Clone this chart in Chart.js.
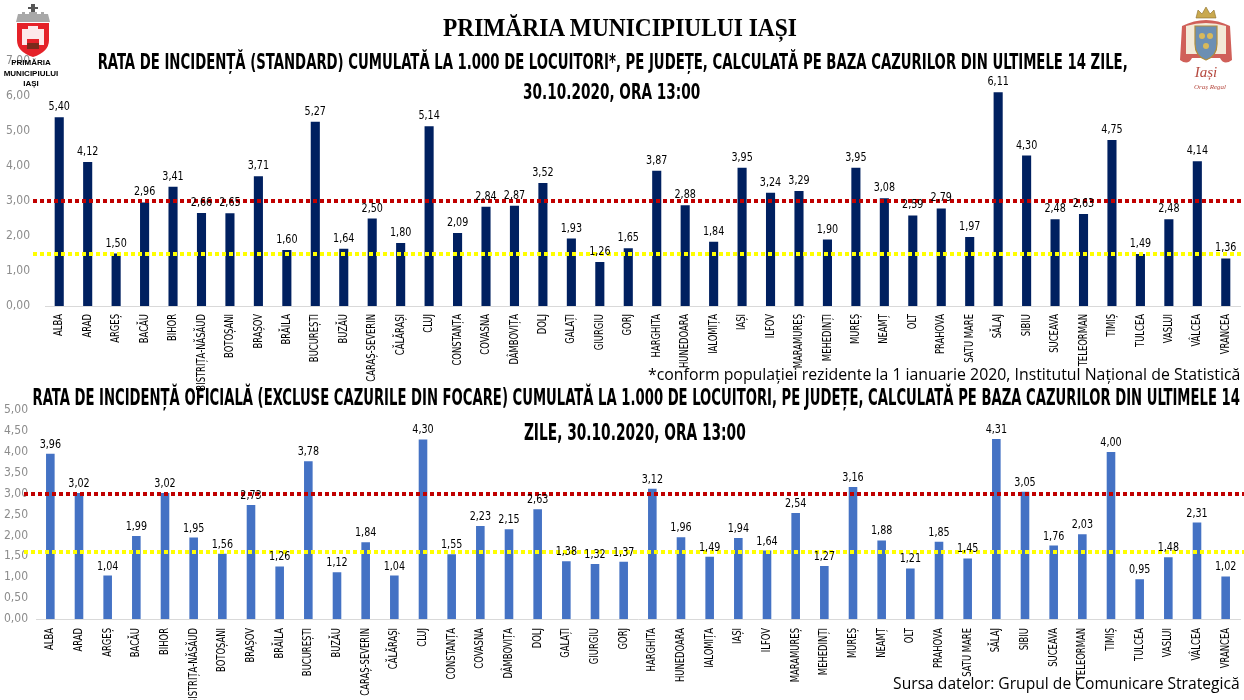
<!DOCTYPE html>
<html>
<head>
<meta charset="utf-8">
<script src="https://cdn.jsdelivr.net/npm/chart.js@4.4.0/dist/chart.umd.min.js"></script>
<style>
  html, body { margin: 0; padding: 0; background: #fff; }
  #page { position: relative; width: 1244px; height: 700px; overflow: hidden; background: #fff; }
  canvas { position: absolute; left: 0; }
  .t { position: absolute; white-space: nowrap; line-height: 1; transform-origin: center center; z-index: 2; color: #000; }
  .cond { font-family: "Liberation Sans Narrow", "DejaVu Sans Condensed", sans-serif; font-weight: bold; }
  .calib { font-family: "Open Sans", "Noto Sans", sans-serif; }
  .logo { position: absolute; z-index: 3; }
</style>
</head>
<body>
<div id="page">
  <canvas id="standardChart" width="1244" height="360" style="top:39px"></canvas>
  <canvas id="officialChart" width="1244" height="307" style="top:395px"></canvas>

  <!-- left logo -->
  <svg class="logo" style="left:10px;top:2px" width="46" height="56" viewBox="0 0 46 56">
    <path d="M21 2 h4 v3 h3 v2 h-3 v4 h-4 v-4 h-3 v-2 h3z" fill="#555"/>
    <path d="M6 20 L8 12 h4 v-2 h3 v2 h4 v-2 h8 v2 h4 v-2 h3 v2 h4 L40 20z" fill="#a8a8a8"/>
    <path d="M7 21 H39 V38 Q39 50 23 55 Q7 50 7 38 Z" fill="#e52229"/>
    <path d="M12 27 h6 v-3 h10 v3 h6 v16 h-5 v-6 h-12 v6 h-5z" fill="#fff" opacity="0.9"/>
    <path d="M17 41 h12 v6 h-12z" fill="#7a2b1c"/>
  </svg>
  <div class="t" id="logoTxt" style="font-family:'Liberation Sans',Arial,sans-serif;font-weight:bold;font-size:8px;line-height:10.5px;text-align:center;left:2px;top:58px;width:58px;">PRIMĂRIA<br>MUNICIPIULUI<br>IAȘI</div>

  <!-- right logo -->
  <svg class="logo" style="left:1176px;top:4px" width="60" height="92" viewBox="0 0 60 92">
    <path d="M20 14 L22 6 L26 10 L30 3 L34 10 L38 6 L40 14 Z" fill="#c9a94f" stroke="#8a6d2a" stroke-width="0.6"/>
    <path d="M6 22 Q30 10 54 22 L56 56 Q48 62 44 54 L16 54 Q12 62 4 56 Z" fill="#c8443c" opacity="0.85"/>
    <path d="M10 22 Q30 16 50 22 L50 50 L10 50 Z" fill="#f3ead8"/>
    <path d="M19 22 H41 V40 Q41 52 30 56 Q19 52 19 40 Z" fill="#6c8fb3" stroke="#b08d3a" stroke-width="1.2"/>
    <circle cx="26" cy="32" r="3" fill="#d8b95a"/>
    <circle cx="34" cy="32" r="3" fill="#d8b95a"/>
    <circle cx="30" cy="42" r="3" fill="#d8b95a"/>
    <text x="30" y="73" text-anchor="middle" font-family="Liberation Serif, serif" font-style="italic" font-size="15" fill="#b5483e">Iași</text>
    <text x="34" y="85" text-anchor="middle" font-family="Liberation Serif, serif" font-style="italic" font-size="7" fill="#b5483e">Oraș Regal</text>
  </svg>

  <div class="t" data-cx="620" data-cy="27" data-w="354" style="font-family:'Liberation Serif','DejaVu Serif',serif;font-weight:bold;font-size:25px;">PRIMĂRIA MUNICIPIULUI IAȘI</div>
  <div class="t cond" data-cx="612" data-cy="62" data-w="1030" style="font-size:21px;">RATA DE INCIDENȚĂ (STANDARD) CUMULATĂ LA 1.000 DE LOCUITORI*, PE JUDEȚE, CALCULATĂ PE BAZA CAZURILOR DIN ULTIMELE 14 ZILE,</div>
  <div class="t cond" data-cx="611" data-cy="92" data-w="177" style="font-size:21px;">30.10.2020, ORA 13:00</div>
  <div class="t calib" data-cx="944" data-cy="374" data-w="592" style="font-size:16px;">*conform populației rezidente la 1 ianuarie 2020, Institutul Național de Statistică</div>
  <div class="t cond" data-cx="636" data-cy="397" data-w="1208" style="font-size:23px;">RATA DE INCIDENȚĂ OFICIALĂ (EXCLUSE CAZURILE DIN FOCARE) CUMULATĂ LA 1.000 DE LOCUITORI, PE JUDEȚE, CALCULATĂ PE BAZA CAZURILOR DIN ULTIMELE 14</div>
  <div class="t cond" data-cx="635" data-cy="432" data-w="222" style="font-size:23px;">ZILE, 30.10.2020, ORA 13:00</div>
  <div class="t calib" data-cx="1066" data-cy="683" data-w="347" style="font-size:16px;">Sursa datelor: Grupul de Comunicare Strategică</div>
</div>

<script>
  const counties = ['ALBA', 'ARAD', 'ARGEȘ', 'BACĂU', 'BIHOR', 'BISTRIȚA-NĂSĂUD', 'BOTOȘANI', 'BRAȘOV',
    'BRĂILA', 'BUCUREȘTI', 'BUZĂU', 'CARAȘ-SEVERIN', 'CĂLĂRAȘI', 'CLUJ', 'CONSTANȚA', 'COVASNA',
    'DÂMBOVIȚA', 'DOLJ', 'GALAȚI', 'GIURGIU', 'GORJ', 'HARGHITA', 'HUNEDOARA', 'IALOMIȚA', 'IAȘI',
    'ILFOV', 'MARAMUREȘ', 'MEHEDINȚI', 'MUREȘ', 'NEAMȚ', 'OLT', 'PRAHOVA', 'SATU MARE', 'SĂLAJ',
    'SIBIU', 'SUCEAVA', 'TELEORMAN', 'TIMIȘ', 'TULCEA', 'VASLUI', 'VÂLCEA', 'VRANCEA'];

  // rata standard (sus)
  const standardRate = [5.40, 4.12, 1.50, 2.96, 3.41, 2.66, 2.65, 3.71, 1.60, 5.27, 1.64, 2.50, 1.80, 5.14,
    2.09, 2.84, 2.87, 3.52, 1.93, 1.26, 1.65, 3.87, 2.88, 1.84, 3.95, 3.24, 3.29, 1.90, 3.95, 3.08,
    2.59, 2.79, 1.97, 6.11, 4.30, 2.48, 2.63, 4.75, 1.49, 2.48, 4.14, 1.36];

  // rata oficiala (jos)
  const officialRate = [3.96, 3.02, 1.04, 1.99, 3.02, 1.95, 1.56, 2.73, 1.26, 3.78, 1.12, 1.84, 1.04, 4.30,
    1.55, 2.23, 2.15, 2.63, 1.38, 1.32, 1.37, 3.12, 1.96, 1.49, 1.94, 1.64, 2.54, 1.27, 3.16, 1.88,
    1.21, 1.85, 1.45, 4.31, 3.05, 1.76, 2.03, 4.00, 0.95, 1.48, 2.31, 1.02];

  const standardLines = [3.0, 1.5];   // rosu, galben
  const officialLines = [3.0, 1.6];
  const standardAxis = [0, 7, 1];     // min, max, pas
  const officialAxis = [0, 5, 0.5];

  const fmt = v => v.toFixed(2).replace('.', ',');

  function condText(ctx, txt, x, y, sx) {
    ctx.save();
    ctx.translate(x, y);
    ctx.scale(sx, 1);
    ctx.fillText(txt, 0, 0);
    ctx.restore();
  }

  // linii punctate de referinta
  const refLines = {
    id: 'refLines',
    afterDatasetsDraw(chart, args, opts) {
      const { ctx, chartArea: a, scales: { y } } = chart;
      ctx.save();
      ctx.lineWidth = 4;
      ctx.setLineDash([4, 3]);
      opts.lines.forEach((v, i) => {
        const py = Math.round(y.getPixelForValue(v));
        ctx.strokeStyle = i === 0 ? '#C00000' : '#FFFF00';
        ctx.beginPath();
        ctx.moveTo(a.left - opts.extend, py);
        ctx.lineTo(a.right + 4, py);
        ctx.stroke();
      });
      ctx.restore();
    }
  };

  // valori deasupra barelor
  const valueLabels = {
    id: 'valueLabels',
    afterDraw(chart, args, opts) {
      const ctx = chart.ctx;
      const data = chart.data.datasets[0].data;
      ctx.save();
      ctx.fillStyle = '#000';
      ctx.font = '13px "Liberation Sans Narrow", "DejaVu Sans Condensed", sans-serif';
      ctx.textAlign = 'center';
      ctx.textBaseline = 'alphabetic';
      chart.getDatasetMeta(0).data.forEach((bar, i) => {
        condText(ctx, fmt(data[i]), bar.x, bar.y - opts.offset, 0.82);
      });
      ctx.restore();
    }
  };

  // judete, text vertical
  const countyLabels = {
    id: 'countyLabels',
    afterDraw(chart, args, opts) {
      const { ctx, chartArea: a, scales: { x } } = chart;
      ctx.save();
      ctx.fillStyle = '#000';
      ctx.font = '12px "Liberation Sans Narrow", "DejaVu Sans Condensed", sans-serif';
      ctx.textAlign = 'right';
      ctx.textBaseline = 'middle';
      chart.data.labels.forEach((lab, i) => {
        ctx.save();
        ctx.translate(x.getPixelForValue(i), a.bottom + opts.gap);
        ctx.rotate(-Math.PI / 2);
        ctx.scale(0.78, 1);
        ctx.fillText(lab, 0, 0);
        ctx.restore();
      });
      ctx.restore();
    }
  };

  function makeChart(id, values, color, axis, lines, cfg) {
    return new Chart(document.getElementById(id), {
      type: 'bar',
      data: {
        labels: counties,
        datasets: [{
          data: values,
          backgroundColor: color,
          categoryPercentage: 1,
          barPercentage: cfg.bar
        }]
      },
      options: {
        responsive: false,
        animation: false,
        devicePixelRatio: 1,
        layout: { padding: { top: 0, right: 4, bottom: cfg.padBottom, left: 0 } },
        plugins: {
          legend: { display: false },
          tooltip: { enabled: false },
          refLines: { lines: lines, extend: 12 },
          valueLabels: { offset: cfg.offset },
          countyLabels: { gap: cfg.gap }
        },
        scales: {
          x: {
            grid: { display: false, drawTicks: false },
            border: { color: '#D9D9D9', width: 1 },
            ticks: { display: false }
          },
          y: {
            min: axis[0],
            max: axis[1],
            grid: { display: false, drawTicks: false },
            border: { display: false },
            afterFit: s => { s.width = cfg.left; },
            ticks: {
              stepSize: axis[2],
              padding: cfg.tickPad,
              color: '#8C8C8C',
              font: { family: '"Liberation Sans Narrow", "DejaVu Sans Condensed", sans-serif', size: 12 },
              callback: v => fmt(v)
            }
          }
        }
      },
      plugins: [refLines, valueLabels, countyLabels]
    });
  }

  makeChart('standardChart', standardRate, '#002060', standardAxis, standardLines,
    { bar: 0.32, padBottom: 93, offset: 7, gap: 8, left: 45, tickPad: 15 });
  makeChart('officialChart', officialRate, '#4472C4', officialAxis, officialLines,
    { bar: 0.30, padBottom: 83, offset: 6, gap: 9, left: 36, tickPad: 8 });

  // potriveste textele HTML la latimea din original
  document.querySelectorAll('.t[data-w]').forEach(el => {
    const w = el.offsetWidth, h = el.offsetHeight;
    const s = (+el.dataset.w) / w;
    el.style.left = (+el.dataset.cx - w / 2) + 'px';
    el.style.top = (+el.dataset.cy - h / 2) + 'px';
    el.style.transform = 'scaleX(' + s.toFixed(3) + ')';
  });
</script>
</body>
</html>
